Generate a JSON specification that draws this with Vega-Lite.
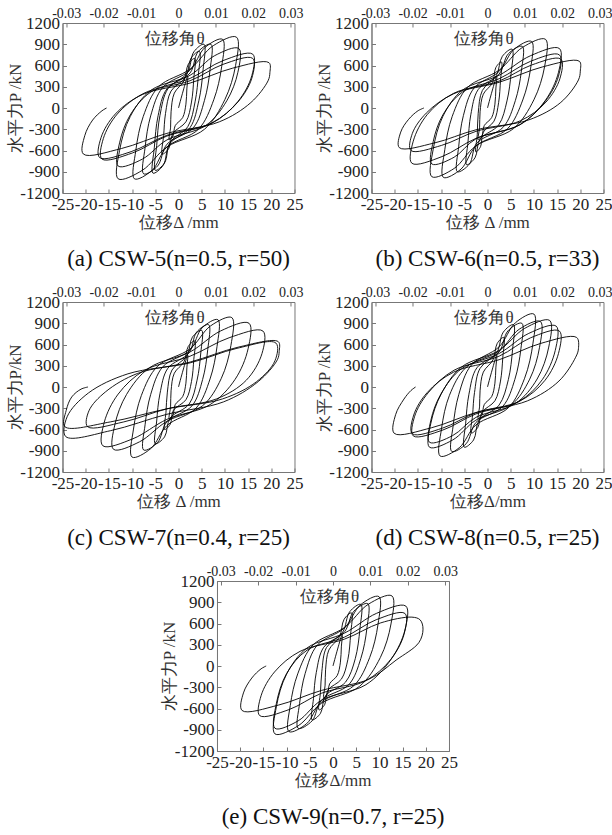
{
"$schema":"https://vega.github.io/schema/vega-lite/v6.json",
"padding":{"left":5,"top":5,"right":0,"bottom":3},
"config":{
 "view":{"stroke":"#777","strokeWidth":1},
 "font":"Liberation Serif",
 "locale":{"number":{"decimal":".","thousands":",","grouping":[3],"currency":["$",""],"minus":"-"}},
 "axis":{"domainColor":"#777","tickColor":"#777","tickSize":-4,"labelPadding":7,"labelFont":"Liberation Serif","labelFontSize":17,"labelColor":"#222","titleFont":"Liberation Serif","titleFontSize":17,"titleFontWeight":"normal","titleColor":"#333","labelFlush":false,"labelOverlap":false,"labelBound":false,"grid":false},
 "axisTop":{"labelFontSize":14},
 "title":{"font":"Liberation Serif","fontSize":23,"fontWeight":"normal","color":"#111","orient":"bottom","offset":18}
},
"datasets":{
"th":[{"t":-0.03},{"t":-0.02},{"t":-0.01},{"t":0},{"t":0.01},{"t":0.02},{"t":0.03}],
"a":[{"x":0,"y":0},{"x":1,"y":240},{"x":2,"y":450},
{"x":1.8,"y":270},{"x":1.6,"y":54},{"x":0.9,"y":-135},{"x":-0.7,"y":-248},{"x":-1.2,"y":-396},{"x":-2,"y":-450},
{"x":-1.7,"y":-270},{"x":-1.6,"y":-54},{"x":-0.9,"y":210},{"x":1.2,"y":385},{"x":2.1,"y":616},{"x":3.5,"y":700},
{"x":3.3,"y":420},{"x":2.8,"y":84},{"x":1.6,"y":-195},{"x":-1.2,"y":-358},{"x":-2.1,"y":-572},{"x":-3.5,"y":-650},
{"x":-3.2,"y":-390},{"x":-2.8,"y":-78},{"x":-1.6,"y":240},{"x":1.6,"y":440},{"x":2.7,"y":704},{"x":4.5,"y":800},
{"x":4.3,"y":480},{"x":3.6,"y":96},{"x":2.0,"y":-264},{"x":-1.8,"y":-484},{"x":-3.0,"y":-774},{"x":-5,"y":-880},
{"x":-4.7,"y":-528},{"x":-4.0,"y":-106},{"x":-2.3,"y":270},{"x":1.9,"y":495},{"x":3.3,"y":792},{"x":5.5,"y":900},
{"x":5.3,"y":540},{"x":4.4,"y":108},{"x":2.5,"y":-276},{"x":-1.9,"y":-506},{"x":-3.3,"y":-810},{"x":-5.5,"y":-920},
{"x":-5.2,"y":-552},{"x":-4.4,"y":-110},{"x":-2.5,"y":270},{"x":2.5,"y":495},{"x":4.2,"y":792},{"x":7,"y":900},
{"x":6.8,"y":540},{"x":5.6,"y":108},{"x":3.2,"y":-279},{"x":-2.5,"y":-512},{"x":-4.5,"y":-818},{"x":-7.5,"y":-930},
{"x":-7.2,"y":-558},{"x":-6.0,"y":-112},{"x":-3.4,"y":291},{"x":2.5,"y":534},{"x":5.7,"y":854},{"x":9.5,"y":970},
{"x":9.3,"y":582},{"x":7.6,"y":116},{"x":4.3,"y":-300},{"x":-2.5,"y":-550},{"x":-5.7,"y":-880},{"x":-9.5,"y":-1000},
{"x":-9.2,"y":-600},{"x":-7.6,"y":-120},{"x":-4.3,"y":300},{"x":2.5,"y":550},{"x":7.5,"y":880},{"x":12.5,"y":1000},
{"x":12.3,"y":600},{"x":10.0,"y":120},{"x":5.6,"y":-300},{"x":-2.5,"y":-550},{"x":-7.8,"y":-880},{"x":-13,"y":-1000},
{"x":-12.7,"y":-600},{"x":-10.4,"y":-120},{"x":-5.9,"y":252},{"x":2.5,"y":462},{"x":7.8,"y":739},{"x":13,"y":840},
{"x":12.8,"y":504},{"x":10.4,"y":101},{"x":5.9,"y":-246},{"x":-2.5,"y":-451},{"x":-7.8,"y":-722},{"x":-13,"y":-820},
{"x":-12.7,"y":-492},{"x":-10.4,"y":-98},{"x":-5.9,"y":228},{"x":2.5,"y":418},{"x":9.6,"y":669},{"x":16,"y":760},
{"x":15.8,"y":456},{"x":12.8,"y":91},{"x":7.2,"y":-216},{"x":-2.5,"y":-396},{"x":-9.9,"y":-634},{"x":-16.5,"y":-720},
{"x":-16.2,"y":-432},{"x":-13.2,"y":-86},{"x":-7.4,"y":210},{"x":2.5,"y":385},{"x":9.6,"y":616},{"x":16,"y":700},
{"x":15.8,"y":420},{"x":12.8,"y":84},{"x":7.2,"y":-210},{"x":-2.5,"y":-385},{"x":-10.2,"y":-616},{"x":-17,"y":-700},
{"x":-16.7,"y":-420},{"x":-13.6,"y":-84},{"x":-7.7,"y":192},{"x":2.5,"y":352},{"x":11.7,"y":563},{"x":19.5,"y":640},
{"x":19.7,"y":500},{"x":19.3,"y":384},{"x":15.6,"y":77},{"x":8.8,"y":-195},{"x":-2.5,"y":-358},{"x":-12.3,"y":-572},{"x":-20.5,"y":-650},
{"x":-20.2,"y":-390},{"x":-18.5,"y":-170},{"x":-16.5,"y":-40},{"x":-15.5,"y":0}],
"b":[{"x":0,"y":0},{"x":1,"y":240},{"x":2,"y":450},
{"x":1.8,"y":270},{"x":1.6,"y":54},{"x":0.9,"y":-135},{"x":-0.7,"y":-248},{"x":-1.2,"y":-396},{"x":-2,"y":-450},
{"x":-1.7,"y":-270},{"x":-1.6,"y":-54},{"x":-0.9,"y":195},{"x":1.1,"y":358},{"x":1.8,"y":572},{"x":3,"y":650},
{"x":2.8,"y":390},{"x":2.4,"y":78},{"x":1.4,"y":-186},{"x":-0.9,"y":-341},{"x":-1.5,"y":-546},{"x":-2.5,"y":-620},
{"x":-2.2,"y":-372},{"x":-2.0,"y":-74},{"x":-1.1,"y":249},{"x":1.9,"y":457},{"x":3.2,"y":730},{"x":5.3,"y":830},
{"x":5.1,"y":498},{"x":4.2,"y":100},{"x":2.4,"y":-240},{"x":-1.6,"y":-440},{"x":-2.7,"y":-704},{"x":-4.5,"y":-800},
{"x":-4.2,"y":-480},{"x":-3.6,"y":-96},{"x":-2.0,"y":261},{"x":2.5,"y":479},{"x":4.5,"y":766},{"x":7.5,"y":870},
{"x":7.3,"y":522},{"x":6.0,"y":104},{"x":3.4,"y":-270},{"x":-2.3,"y":-495},{"x":-3.9,"y":-792},{"x":-6.5,"y":-900},
{"x":-6.2,"y":-540},{"x":-5.2,"y":-108},{"x":-2.9,"y":282},{"x":2.5,"y":517},{"x":5.7,"y":827},{"x":9.5,"y":940},
{"x":9.3,"y":564},{"x":7.6,"y":113},{"x":4.3,"y":-294},{"x":-2.5,"y":-539},{"x":-5.7,"y":-862},{"x":-9.5,"y":-980},
{"x":-9.2,"y":-588},{"x":-7.6,"y":-118},{"x":-4.3,"y":291},{"x":2.5,"y":534},{"x":7.5,"y":854},{"x":12.5,"y":970},
{"x":12.3,"y":582},{"x":10.0,"y":116},{"x":5.6,"y":-291},{"x":-2.5,"y":-534},{"x":-7.2,"y":-854},{"x":-12,"y":-970},
{"x":-11.7,"y":-582},{"x":-9.6,"y":-116},{"x":-5.4,"y":252},{"x":2.5,"y":462},{"x":9.3,"y":739},{"x":15.5,"y":840},
{"x":15.3,"y":504},{"x":12.4,"y":101},{"x":7.0,"y":-237},{"x":-2.5,"y":-435},{"x":-7.2,"y":-695},{"x":-12,"y":-790},
{"x":-11.7,"y":-474},{"x":-9.6,"y":-95},{"x":-5.4,"y":225},{"x":2.5,"y":413},{"x":9.3,"y":660},{"x":15.5,"y":750},
{"x":15.3,"y":450},{"x":12.4,"y":90},{"x":7.0,"y":-234},{"x":-2.5,"y":-429},{"x":-9.8,"y":-686},{"x":-16.3,"y":-780},
{"x":-16.0,"y":-468},{"x":-13.0,"y":-94},{"x":-7.3,"y":207},{"x":2.5,"y":380},{"x":9.5,"y":607},{"x":15.8,"y":690},
{"x":15.6,"y":414},{"x":12.6,"y":83},{"x":7.1,"y":-180},{"x":-2.5,"y":-330},{"x":-9.9,"y":-528},{"x":-16.5,"y":-600},
{"x":-16.2,"y":-360},{"x":-13.2,"y":-72},{"x":-7.4,"y":198},{"x":2.5,"y":363},{"x":11.9,"y":581},{"x":19.8,"y":660},
{"x":20.0,"y":520},{"x":19.6,"y":396},{"x":15.8,"y":79},{"x":8.9,"y":-168},{"x":-2.5,"y":-308},{"x":-11.4,"y":-493},{"x":-19,"y":-560},
{"x":-18.7,"y":-340},{"x":-17,"y":-160},{"x":-15,"y":-40},{"x":-13.7,"y":0}],
"c":[{"x":0,"y":0},{"x":1,"y":240},{"x":2,"y":450},
{"x":1.8,"y":270},{"x":1.6,"y":54},{"x":0.9,"y":-135},{"x":-0.7,"y":-248},{"x":-1.2,"y":-396},{"x":-2,"y":-450},
{"x":-1.7,"y":-270},{"x":-1.6,"y":-54},{"x":-0.9,"y":195},{"x":1.2,"y":358},{"x":2.1,"y":572},{"x":3.5,"y":650},
{"x":3.3,"y":390},{"x":2.8,"y":78},{"x":1.6,"y":-180},{"x":-1.1,"y":-330},{"x":-1.8,"y":-528},{"x":-3,"y":-600},
{"x":-2.7,"y":-360},{"x":-2.4,"y":-72},{"x":-1.4,"y":240},{"x":1.8,"y":440},{"x":3.0,"y":704},{"x":5,"y":800},
{"x":4.8,"y":480},{"x":4.0,"y":96},{"x":2.3,"y":-240},{"x":-1.8,"y":-440},{"x":-3.0,"y":-704},{"x":-5,"y":-800},
{"x":-4.7,"y":-480},{"x":-4.0,"y":-96},{"x":-2.3,"y":264},{"x":2.3,"y":484},{"x":3.9,"y":774},{"x":6.5,"y":880},
{"x":6.3,"y":528},{"x":5.2,"y":106},{"x":2.9,"y":-267},{"x":-2.5,"y":-490},{"x":-4.5,"y":-783},{"x":-7.5,"y":-890},
{"x":-7.2,"y":-534},{"x":-6.0,"y":-107},{"x":-3.4,"y":285},{"x":2.5,"y":523},{"x":5.1,"y":836},{"x":8.5,"y":950},
{"x":8.3,"y":570},{"x":6.8,"y":114},{"x":3.8,"y":-297},{"x":-2.5,"y":-545},{"x":-6.0,"y":-871},{"x":-10,"y":-990},
{"x":-9.7,"y":-594},{"x":-8.0,"y":-119},{"x":-4.5,"y":294},{"x":2.5,"y":539},{"x":6.9,"y":862},{"x":11.5,"y":980},
{"x":11.3,"y":588},{"x":9.2,"y":118},{"x":5.2,"y":-264},{"x":-2.5,"y":-484},{"x":-8.4,"y":-774},{"x":-14,"y":-880},
{"x":-13.7,"y":-528},{"x":-11.2,"y":-106},{"x":-6.3,"y":270},{"x":2.5,"y":495},{"x":9.1,"y":792},{"x":15.2,"y":900},
{"x":15.0,"y":540},{"x":12.2,"y":108},{"x":6.8,"y":-249},{"x":-2.5,"y":-457},{"x":-9.8,"y":-730},{"x":-16.3,"y":-830},
{"x":-16.0,"y":-498},{"x":-13.0,"y":-100},{"x":-7.3,"y":237},{"x":2.5,"y":435},{"x":10.9,"y":695},{"x":18.2,"y":790},
{"x":18.0,"y":474},{"x":14.6,"y":95},{"x":8.2,"y":-168},{"x":-2.5,"y":-308},{"x":-11.8,"y":-493},{"x":-19.6,"y":-560},
{"x":-19.3,"y":-336},{"x":-15.7,"y":-67},{"x":-8.8,"y":192},{"x":2.5,"y":352},{"x":12.9,"y":563},{"x":21.5,"y":640},
{"x":21.7,"y":500},{"x":21.3,"y":384},{"x":17.2,"y":77},{"x":9.7,"y":-210},{"x":-2.5,"y":-385},{"x":-14.6,"y":-616},{"x":-24.3,"y":-700},
{"x":-24.0,"y":-420},{"x":-19.4,"y":-84},{"x":-10.9,"y":186},{"x":2.5,"y":341},{"x":12.6,"y":546},{"x":21,"y":620},
{"x":20.8,"y":372},{"x":16.8,"y":74},{"x":9.5,"y":-168},{"x":-2.5,"y":-308},{"x":-14.7,"y":-493},{"x":-24.5,"y":-560},
{"x":-24.2,"y":-330},{"x":-23,"y":-140},{"x":-21,"y":-30},{"x":-19.5,"y":0}],
"d":[{"x":0,"y":0},{"x":1,"y":240},{"x":2,"y":450},
{"x":1.8,"y":270},{"x":1.6,"y":54},{"x":0.9,"y":-135},{"x":-0.7,"y":-248},{"x":-1.2,"y":-396},{"x":-2,"y":-450},
{"x":-1.7,"y":-270},{"x":-1.6,"y":-54},{"x":-0.9,"y":210},{"x":1.2,"y":385},{"x":2.1,"y":616},{"x":3.5,"y":700},
{"x":3.3,"y":420},{"x":2.8,"y":84},{"x":1.6,"y":-195},{"x":-1.2,"y":-358},{"x":-2.1,"y":-572},{"x":-3.5,"y":-650},
{"x":-3.2,"y":-390},{"x":-2.8,"y":-78},{"x":-1.6,"y":264},{"x":2.0,"y":484},{"x":3.4,"y":774},{"x":5.6,"y":880},
{"x":5.4,"y":528},{"x":4.5,"y":106},{"x":2.5,"y":-255},{"x":-1.8,"y":-468},{"x":-3.0,"y":-748},{"x":-5,"y":-850},
{"x":-4.7,"y":-510},{"x":-4.0,"y":-102},{"x":-2.3,"y":270},{"x":2.5,"y":495},{"x":4.4,"y":792},{"x":7.4,"y":900},
{"x":7.2,"y":540},{"x":5.9,"y":108},{"x":3.3,"y":-273},{"x":-2.5,"y":-501},{"x":-4.6,"y":-801},{"x":-7.7,"y":-910},
{"x":-7.4,"y":-546},{"x":-6.2,"y":-109},{"x":-3.5,"y":309},{"x":2.5,"y":567},{"x":6.0,"y":906},{"x":10,"y":1030},
{"x":9.8,"y":618},{"x":8.0,"y":124},{"x":4.5,"y":-293},{"x":-2.5,"y":-536},{"x":-6.1,"y":-858},{"x":-10.2,"y":-975},
{"x":-9.9,"y":-585},{"x":-8.2,"y":-117},{"x":-4.6,"y":278},{"x":2.5,"y":509},{"x":6.8,"y":814},{"x":11.4,"y":925},
{"x":11.2,"y":555},{"x":9.1,"y":111},{"x":5.1,"y":-255},{"x":-2.5,"y":-468},{"x":-7.5,"y":-748},{"x":-12.5,"y":-850},
{"x":-12.2,"y":-510},{"x":-10.0,"y":-102},{"x":-5.6,"y":282},{"x":2.5,"y":517},{"x":8.0,"y":827},{"x":13.4,"y":940},
{"x":13.2,"y":564},{"x":10.7,"y":113},{"x":6.0,"y":-234},{"x":-2.5,"y":-429},{"x":-7.5,"y":-686},{"x":-12.5,"y":-780},
{"x":-12.2,"y":-468},{"x":-10.0,"y":-94},{"x":-5.6,"y":258},{"x":2.5,"y":473},{"x":8.9,"y":757},{"x":14.8,"y":860},
{"x":14.6,"y":516},{"x":11.8,"y":103},{"x":6.7,"y":-207},{"x":-2.5,"y":-380},{"x":-9.6,"y":-607},{"x":-16,"y":-690},
{"x":-15.7,"y":-414},{"x":-12.8,"y":-83},{"x":-7.2,"y":237},{"x":2.5,"y":435},{"x":9.3,"y":695},{"x":15.5,"y":790},
{"x":15.3,"y":474},{"x":12.4,"y":95},{"x":7.0,"y":-198},{"x":-2.5,"y":-363},{"x":-9.7,"y":-581},{"x":-16.2,"y":-660},
{"x":-15.9,"y":-396},{"x":-13.0,"y":-79},{"x":-7.3,"y":210},{"x":2.5,"y":385},{"x":11.5,"y":616},{"x":19.2,"y":700},
{"x":19.6,"y":540},{"x":19.0,"y":420},{"x":15.4,"y":84},{"x":8.6,"y":-196},{"x":-2.5,"y":-360},{"x":-12.1,"y":-576},{"x":-20.1,"y":-654},
{"x":-19.8,"y":-390},{"x":-18,"y":-170},{"x":-16.5,"y":-50},{"x":-15.5,"y":0}],
"e":[{"x":0,"y":0},{"x":1,"y":240},{"x":2,"y":450},
{"x":1.8,"y":270},{"x":1.6,"y":54},{"x":0.9,"y":-135},{"x":-0.7,"y":-248},{"x":-1.2,"y":-396},{"x":-2,"y":-450},
{"x":-1.7,"y":-270},{"x":-1.6,"y":-54},{"x":-0.9,"y":225},{"x":1.4,"y":413},{"x":2.4,"y":660},{"x":4,"y":750},
{"x":3.8,"y":450},{"x":3.2,"y":90},{"x":1.8,"y":-186},{"x":-1.1,"y":-341},{"x":-1.8,"y":-546},{"x":-3,"y":-620},
{"x":-2.7,"y":-372},{"x":-2.4,"y":-74},{"x":-1.4,"y":261},{"x":2.1,"y":479},{"x":3.6,"y":766},{"x":6,"y":870},
{"x":5.8,"y":522},{"x":4.8,"y":104},{"x":2.7,"y":-228},{"x":-1.6,"y":-418},{"x":-2.7,"y":-669},{"x":-4.5,"y":-760},
{"x":-4.2,"y":-456},{"x":-3.6,"y":-91},{"x":-2.0,"y":264},{"x":2.5,"y":484},{"x":4.5,"y":774},{"x":7.5,"y":880},
{"x":7.3,"y":528},{"x":6.0,"y":106},{"x":3.4,"y":-264},{"x":-2.5,"y":-484},{"x":-4.5,"y":-774},{"x":-7.5,"y":-880},
{"x":-7.2,"y":-528},{"x":-6.0,"y":-106},{"x":-3.4,"y":294},{"x":2.5,"y":539},{"x":5.9,"y":862},{"x":9.9,"y":980},
{"x":9.7,"y":588},{"x":7.9,"y":118},{"x":4.5,"y":-278},{"x":-2.5,"y":-509},{"x":-5.7,"y":-815},{"x":-9.5,"y":-926},
{"x":-9.2,"y":-556},{"x":-7.6,"y":-111},{"x":-4.3,"y":297},{"x":2.5,"y":545},{"x":7.6,"y":871},{"x":12.7,"y":990},
{"x":12.5,"y":594},{"x":10.2,"y":119},{"x":5.7,"y":-288},{"x":-2.5,"y":-527},{"x":-7.5,"y":-844},{"x":-12.5,"y":-959},
{"x":-12.2,"y":-575},{"x":-10.0,"y":-115},{"x":-5.6,"y":254},{"x":2.5,"y":465},{"x":9.4,"y":744},{"x":15.7,"y":846},
{"x":15.5,"y":508},{"x":12.6,"y":102},{"x":7.1,"y":-264},{"x":-2.5,"y":-484},{"x":-7.5,"y":-774},{"x":-12.5,"y":-880},
{"x":-12.2,"y":-528},{"x":-10.0,"y":-106},{"x":-5.6,"y":223},{"x":2.5,"y":408},{"x":9.3,"y":653},{"x":15.5,"y":742},
{"x":15.3,"y":445},{"x":12.4,"y":89},{"x":7.0,"y":-210},{"x":-2.5,"y":-385},{"x":-9.5,"y":-616},{"x":-15.8,"y":-700},
{"x":-15.5,"y":-420},{"x":-12.6,"y":-84},{"x":-7.1,"y":207},{"x":2.5,"y":380},{"x":10.2,"y":607},{"x":17,"y":690},
{"x":18.8,"y":650},{"x":19.4,"y":520},{"x":18.5,"y":330},{"x":13.6,"y":83},{"x":7.7,"y":-188},{"x":-2.5,"y":-345},{"x":-11.8,"y":-553},{"x":-19.6,"y":-628},
{"x":-19.3,"y":-380},{"x":-17.5,"y":-170},{"x":-15.5,"y":-40},{"x":-14.4,"y":0}]
},
"vconcat":[
{"hconcat":[
 {"width":232,"height":170,"title":{"text":"(a) CSW-5(n=0.5, r=50)"},
  "layer":[
   {"data":{"name":"a"},"mark":{"type":"line","color":"#000","strokeWidth":0.9,"interpolate":"catmull-rom"},
    "encoding":{"x":{"field":"x","type":"quantitative","scale":{"domain":[-25,25],"nice":false},"axis":{"orient":"bottom","values":[-25,-20,-15,-10,-5,0,5,10,15,20,25],"format":"d","title":"位移Δ /mm","titleY":29,"titleBaseline":"middle"}},
     "y":{"field":"y","type":"quantitative","scale":{"domain":[-1200,1200],"nice":false},"axis":{"values":[-1200,-900,-600,-300,0,300,600,900,1200],"format":"d","title":"水平力P /kN","titleX":-47,"titleBaseline":"middle"}},
     "order":{"value":null}}},
   {"data":{"name":"th"},"mark":{"type":"point","opacity":0},
    "encoding":{"x":{"field":"t","type":"quantitative","scale":{"domain":[-0.031,0.031],"nice":false},"axis":{"orient":"top","values":[-0.03,-0.02,-0.01,0,0.01,0.02,0.03],"format":"~g","title":"位移角θ","titleX":112,"titleY":15,"titleBaseline":"middle","titleAlign":"center"}}}}
  ],
  "resolve":{"scale":{"x":"independent"}}},
 {"width":232,"height":170,"title":{"text":"(b) CSW-6(n=0.5, r=33)"},
  "layer":[
   {"data":{"name":"b"},"mark":{"type":"line","color":"#000","strokeWidth":0.9,"interpolate":"catmull-rom"},
    "encoding":{"x":{"field":"x","type":"quantitative","scale":{"domain":[-25,25],"nice":false},"axis":{"orient":"bottom","values":[-25,-20,-15,-10,-5,0,5,10,15,20,25],"format":"d","title":"位移 Δ /mm","titleY":29,"titleBaseline":"middle"}},
     "y":{"field":"y","type":"quantitative","scale":{"domain":[-1200,1200],"nice":false},"axis":{"values":[-1200,-900,-600,-300,0,300,600,900,1200],"format":"d","title":"水平力P /kN","titleX":-47,"titleBaseline":"middle"}},
     "order":{"value":null}}},
   {"data":{"name":"th"},"mark":{"type":"point","opacity":0},
    "encoding":{"x":{"field":"t","type":"quantitative","scale":{"domain":[-0.031,0.031],"nice":false},"axis":{"orient":"top","values":[-0.03,-0.02,-0.01,0,0.01,0.02,0.03],"format":"~g","title":"位移角θ","titleX":112,"titleY":15,"titleBaseline":"middle","titleAlign":"center"}}}}
  ],
  "resolve":{"scale":{"x":"independent"}}}
],"spacing":10},
{"hconcat":[
 {"width":232,"height":170,"title":{"text":"(c) CSW-7(n=0.4, r=25)"},
  "layer":[
   {"data":{"name":"c"},"mark":{"type":"line","color":"#000","strokeWidth":0.9,"interpolate":"catmull-rom"},
    "encoding":{"x":{"field":"x","type":"quantitative","scale":{"domain":[-25,25],"nice":false},"axis":{"orient":"bottom","values":[-25,-20,-15,-10,-5,0,5,10,15,20,25],"format":"d","title":"位移 Δ /mm","titleY":29,"titleBaseline":"middle"}},
     "y":{"field":"y","type":"quantitative","scale":{"domain":[-1200,1200],"nice":false},"axis":{"values":[-1200,-900,-600,-300,0,300,600,900,1200],"format":"d","title":"水平力P/kN","titleX":-47,"titleBaseline":"middle"}},
     "order":{"value":null}}},
   {"data":{"name":"th"},"mark":{"type":"point","opacity":0},
    "encoding":{"x":{"field":"t","type":"quantitative","scale":{"domain":[-0.031,0.031],"nice":false},"axis":{"orient":"top","values":[-0.03,-0.02,-0.01,0,0.01,0.02,0.03],"format":"~g","title":"位移角θ","titleX":112,"titleY":15,"titleBaseline":"middle","titleAlign":"center"}}}}
  ],
  "resolve":{"scale":{"x":"independent"}}},
 {"width":232,"height":170,"title":{"text":"(d) CSW-8(n=0.5, r=25)"},
  "layer":[
   {"data":{"name":"d"},"mark":{"type":"line","color":"#000","strokeWidth":0.9,"interpolate":"catmull-rom"},
    "encoding":{"x":{"field":"x","type":"quantitative","scale":{"domain":[-25,25],"nice":false},"axis":{"orient":"bottom","values":[-25,-20,-15,-10,-5,0,5,10,15,20,25],"format":"d","title":"位移Δ/mm","titleY":29,"titleBaseline":"middle"}},
     "y":{"field":"y","type":"quantitative","scale":{"domain":[-1200,1200],"nice":false},"axis":{"values":[-1200,-900,-600,-300,0,300,600,900,1200],"format":"d","title":"水平力P /kN","titleX":-47,"titleBaseline":"middle"}},
     "order":{"value":null}}},
   {"data":{"name":"th"},"mark":{"type":"point","opacity":0},
    "encoding":{"x":{"field":"t","type":"quantitative","scale":{"domain":[-0.031,0.031],"nice":false},"axis":{"orient":"top","values":[-0.03,-0.02,-0.01,0,0.01,0.02,0.03],"format":"~g","title":"位移角θ","titleX":112,"titleY":15,"titleBaseline":"middle","titleAlign":"center"}}}}
  ],
  "resolve":{"scale":{"x":"independent"}}}
],"spacing":10},
 {"width":232,"height":170,"title":{"text":"(e) CSW-9(n=0.7, r=25)"},
  "layer":[
   {"data":{"name":"e"},"mark":{"type":"line","color":"#000","strokeWidth":0.9,"interpolate":"catmull-rom"},
    "encoding":{"x":{"field":"x","type":"quantitative","scale":{"domain":[-25,25],"nice":false},"axis":{"orient":"bottom","values":[-25,-20,-15,-10,-5,0,5,10,15,20,25],"format":"d","title":"位移Δ/mm","titleY":29,"titleBaseline":"middle"}},
     "y":{"field":"y","type":"quantitative","scale":{"domain":[-1200,1200],"nice":false},"axis":{"values":[-1200,-900,-600,-300,0,300,600,900,1200],"format":"d","title":"水平力P /kN","titleX":-47,"titleBaseline":"middle"}},
     "order":{"value":null}}},
   {"data":{"name":"th"},"mark":{"type":"point","opacity":0},
    "encoding":{"x":{"field":"t","type":"quantitative","scale":{"domain":[-0.031,0.031],"nice":false},"axis":{"orient":"top","values":[-0.03,-0.02,-0.01,0,0.01,0.02,0.03],"format":"~g","title":"位移角θ","titleX":112,"titleY":15,"titleBaseline":"middle","titleAlign":"center"}}}}
  ],
  "resolve":{"scale":{"x":"independent"}}}
],
"spacing":12,
"center":true
}
